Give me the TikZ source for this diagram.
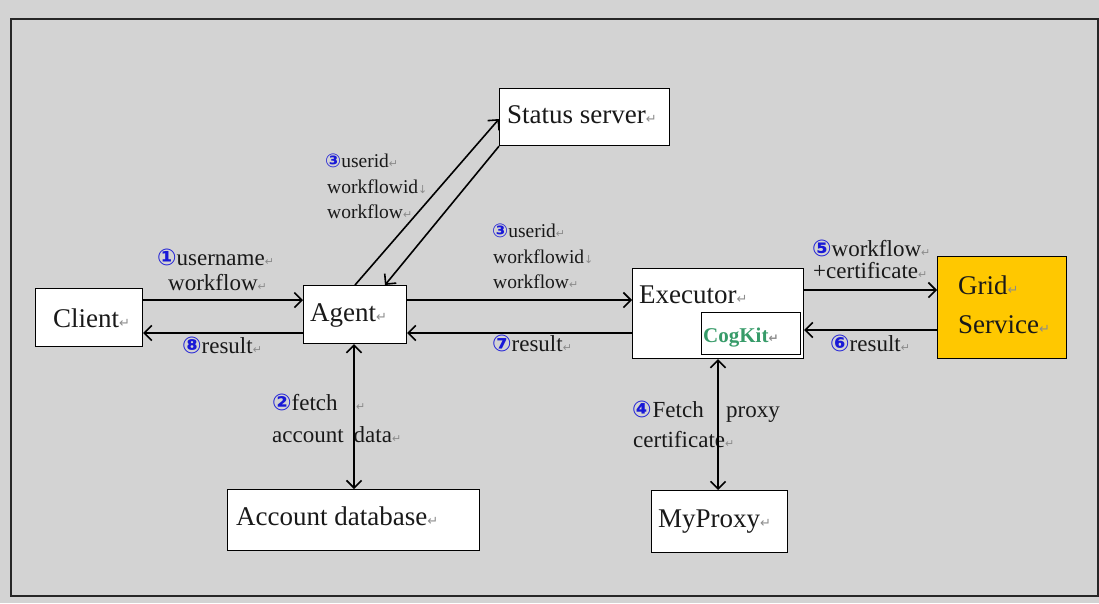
\documentclass[tikz,border=0pt]{standalone}
\usepackage{fontspec}
\setmainfont{Liberation Serif}
\newfontfamily\dejavu{DejaVu Sans}
\usetikzlibrary{arrows.meta}
\definecolor{bg}{RGB}{211,211,211}
\definecolor{retgray}{RGB}{140,140,140}
\definecolor{numblue}{RGB}{25,25,215}
\definecolor{coggreen}{RGB}{55,155,105}
\definecolor{gridfill}{RGB}{255,200,0}
\definecolor{txt}{RGB}{25,25,25}
\newcommand\rmk[1][11]{{\color{retgray}\dejavu\fontsize{#1}{#1}\selectfont ↵}}
\newcommand\dmk[1][11]{{\color{retgray}\dejavu\fontsize{#1}{#1}\selectfont ↓}}
\newcommand\cn[2][23]{{\color{numblue}\dejavu\bfseries\fontsize{#1}{#1}\selectfont #2}}
\tikzset{
  box/.style={draw=black, line width=1.2pt, fill=white, inner sep=0pt, anchor=north west},
  boxtxt/.style={anchor=base west, inner sep=0pt, text=txt, font=\fontsize{27}{27}\selectfont},
  lbl/.style={anchor=base west, inner sep=0pt, text=txt, font=\fontsize{23}{23}\selectfont},
  slbl/.style={anchor=base west, inner sep=0pt, text=txt, font=\fontsize{19.5}{19.5}\selectfont},
  arr/.style={line width=1.6pt, -{Straight Barb[length=7.5pt,width=15pt]}},
  darr/.style={line width=1.6pt, {Straight Barb[length=7.5pt,width=15pt]}-{Straight Barb[length=7.5pt,width=15pt]}},
}
\begin{document}
\begin{tikzpicture}[x=1pt,y=-1pt]
\useasboundingbox (0,0) rectangle (1099,603);
\fill[bg] (0,0) rectangle (1099,603);
\draw[line width=1.6pt, draw=black!85] (11,19) rectangle (1098,596);

% boxes
\node[box, minimum width=107pt, minimum height=58pt] (client) at (35,288) {};
\node[box, minimum width=103pt, minimum height=58pt] (agent) at (303,285) {};
\node[box, minimum width=170pt, minimum height=57pt] (status) at (499,88) {};
\node[box, minimum width=171pt, minimum height=90pt] (exec) at (632,268) {};
\node[box, minimum width=99pt, minimum height=42pt] (cogkit) at (701,312) {};
\node[box, fill=gridfill, minimum width=129pt, minimum height=102pt] (grid) at (937,256) {};
\node[box, minimum width=252pt, minimum height=61pt] (account) at (227,489) {};
\node[box, minimum width=136pt, minimum height=62pt] (myproxy) at (651,490) {};

% box texts
\node[boxtxt] (tclient) at (53,327) {Client\rmk[13]};
\node[boxtxt] (tagent) at (310,321) {Agent\rmk[13]};
\node[boxtxt] (tstatus) at (507,123) {Status server\rmk[13]};
\node[boxtxt] (texec) at (639,303) {Executor\rmk[13]};
\node[boxtxt, text=coggreen, font=\fontsize{21}{21}\selectfont\bfseries] (tcog) at (703,342) {CogKit\rmk[12]};
\node[boxtxt] (tgrid) at (958,294) {Grid\rmk[13]};
\node[boxtxt] (tserv) at (958,333) {Service\rmk[13]};
\node[boxtxt] (tacc) at (236,525) {Account database\rmk[13]};
\node[boxtxt] (tmyp) at (658,527) {MyProxy\rmk[13]};

% labels
\node[lbl] (l1a) at (157,265) {\cn{①}username\rmk};
\node[lbl] (l1b) at (168,290) {workflow\rmk};
\node[lbl] (l8) at (182,353) {\cn{⑧}result\rmk};
\node[slbl] (l3a) at (325,167) {\cn[19]{③}userid\rmk};
\node[slbl] (l3b) at (327,193) {workflowid\dmk};
\node[slbl] (l3c) at (327,218) {workflow\rmk};
\node[slbl] (r3a) at (492,237) {\cn[19]{③}userid\rmk};
\node[slbl] (r3b) at (493,263) {workflowid\dmk};
\node[slbl] (r3c) at (493,288) {workflow\rmk};
\node[lbl] (l5a) at (812,256) {\cn{⑤}workflow\rmk};
\node[lbl] (l5b) at (813,278) {+certificate\rmk};
\node[lbl] (l6) at (830,351) {\cn{⑥}result\rmk};
\node[lbl] (l7) at (492,351) {\cn{⑦}result\rmk};
\node[lbl] (l2a) at (272,410) {\cn{②}fetch};
\node[lbl] (l2r) at (356,410) {\rmk};
\node[lbl] (l2b) at (272,442) {account\hspace{10pt}data\rmk};
\node[lbl] (l4a) at (632,417) {\cn{④}\hspace{1pt}Fetch};
\node[lbl] (l4b) at (726,417) {proxy};
\node[lbl] (l4c) at (633,447) {certificate\rmk};

% connectors
\draw[arr] (client.east |- 0,300) -- (agent.west |- 0,300);
\draw[arr] (agent.west |- 0,333) -- (client.east |- 0,333);
\draw[arr] (agent.east |- 0,300) -- (exec.west |- 0,300);
\draw[arr] (exec.west |- 0,333) -- (agent.east |- 0,333);
\draw[arr] (exec.east |- 0,290) -- (grid.west |- 0,290);
\draw[arr] (grid.west |- 0,330) -- (exec.east |- 0,330);
\draw[arr] (agent.north -| 355,0) -- (status.west |- 0,119);
\draw[arr] (status.south west) -- (agent.north -| 385,0);
\draw[darr] (agent.south -| 354,0) -- (account.north -| 354,0);
\draw[darr] (exec.south -| 718,0) -- (myproxy.north -| 718,0);
\end{tikzpicture}
\end{document}
